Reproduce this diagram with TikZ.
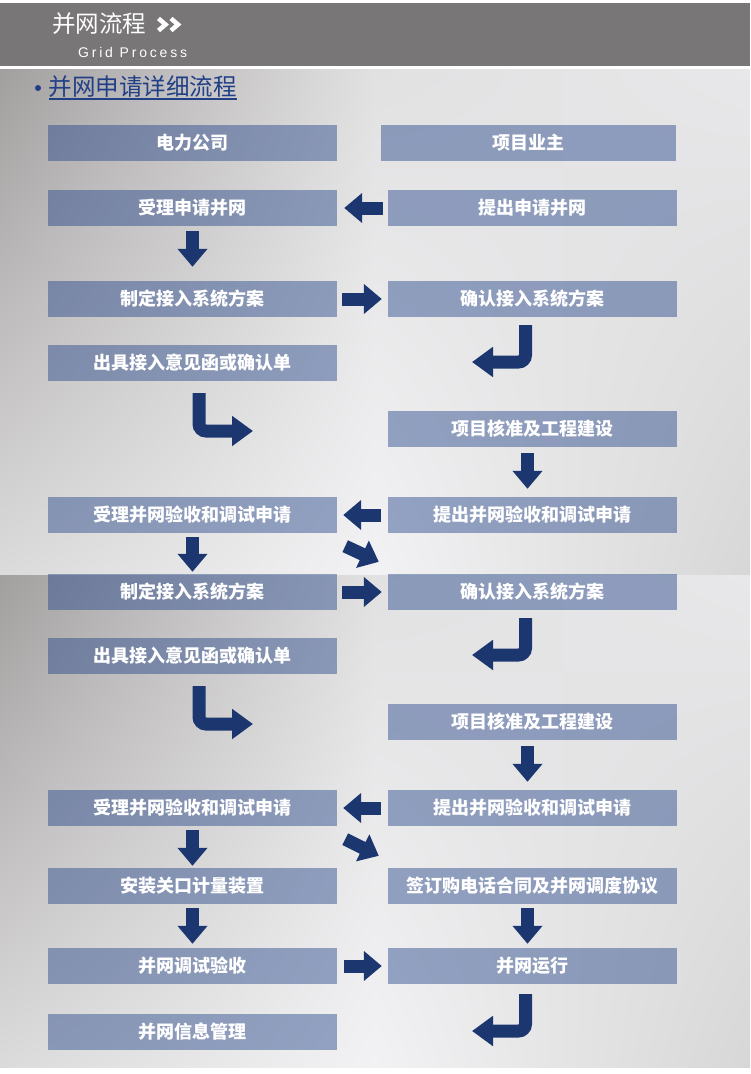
\documentclass[tikz,border=0pt]{standalone}
\usepackage{fontspec}
\newfontfamily\cjk{Noto Sans CJK SC}
\newfontfamily\gridfont[LetterSpace=20]{Liberation Sans}
\usetikzlibrary{arrows.meta, calc, positioning, shadings}
\definecolor{headgrey}{HTML}{787676}
\definecolor{boxblue}{HTML}{234389}
\definecolor{arrowblue}{HTML}{1C376F}
\definecolor{titleblue}{HTML}{213F86}
\definecolor{bgA}{HTML}{A29F9F}
\definecolor{bgB}{HTML}{E2E1E2}
\definecolor{bgC}{HTML}{E8E7E9}
\definecolor{bgD}{HTML}{DCDBDB}
\definecolor{bgE}{HTML}{F2F2F4}
\definecolor{bgF}{HTML}{D8D7D7}
\tikzset{
    box/.style={fill=boxblue, fill opacity=0.45, text opacity=1, text=white,
        minimum width=289pt, minimum height=36pt, inner sep=0pt,
        font=\cjk\bfseries\fontsize{18}{18}\selectfont},
    blk/.style={draw=arrowblue, line width=13pt, -{Triangle[length=18pt, width=29pt]}},
    hook/.style={draw=arrowblue, line width=13pt, rounded corners=7pt, -{Triangle[length=21pt, width=29pt]}}
}
\begin{document}
\begin{tikzpicture}[x=1pt, y=-1pt]
    \def \xa {192.5}
    \def \xb {532.5}
    \useasboundingbox (0,0) rectangle (750,1074);
    \fill[white] (0,0) rectangle (750,1074);
    \foreach \ya/\yb in {69/575, 575/1067}{
    \shade[upper left=bgA, upper right=bgB, lower left=bgD, lower right=bgE] (0,\ya) rectangle (375,\yb);
    \shade[upper left=bgB, upper right=bgC, lower left=bgE, lower right=bgF] (375,\ya) rectangle (750,\yb);}
    % header
    \fill[headgrey] (0,3) rectangle (750,66);
    \node[anchor=base west, inner sep=0pt, text=white, font=\cjk\fontsize{23.5}{23.5}\selectfont] (head) at (52,32) {并网流程};
    \foreach \s in {0,12.5}{
    \draw[white, line width=4.5pt] (158.5+\s,18.5) -- (165.5+\s,24.5) -- (158.5+\s,30.5);}
    \node[anchor=base west, inner sep=0pt, text=white, font=\gridfont\fontsize{14}{14}\selectfont] (sub) at (78,57) {Grid Process};
    \node[anchor=base west, inner sep=0pt, text=titleblue, font=\cjk\fontsize{23.5}{23.5}\selectfont] (title) at (48.5,95) {并网申请详细流程};
    \draw[titleblue, line width=1.5pt] ([yshift=-4pt]title.base west) -- ([yshift=-4pt]title.base east);
    \fill[titleblue] ([xshift=-10.5pt, yshift=7pt]title.base west) circle (3pt);
    % boxes
    \node[box] (a1) at (\xa,143) {电力公司};
    \node[box, minimum width=295pt] (b1) at (528.5,143) {项目业主};
    \node[box] (a2) at (\xa,208) {受理申请并网};
    \node[box] (b2) at (\xb,208) {提出申请并网};
    \node[box] (a3) at (\xa,299) {制定接入系统方案};
    \node[box] (b3) at (\xb,299) {确认接入系统方案};
    \node[box] (a4) at (\xa,363) {出具接入意见函或确认单};
    \node[box] (b5) at (\xb,429) {项目核准及工程建设};
    \node[box] (a6) at (\xa,515) {受理并网验收和调试申请};
    \node[box] (b6) at (\xb,515) {提出并网验收和调试申请};
    \node[box] (a7) at (\xa,592) {制定接入系统方案};
    \node[box] (b7) at (\xb,592) {确认接入系统方案};
    \node[box] (a8) at (\xa,656) {出具接入意见函或确认单};
    \node[box] (b9) at (\xb,722) {项目核准及工程建设};
    \node[box] (a10) at (\xa,808) {受理并网验收和调试申请};
    \node[box] (b10) at (\xb,808) {提出并网验收和调试申请};
    \node[box] (a11) at (\xa,886) {安装关口计量装置};
    \node[box] (b11) at (\xb,886) {签订购电话合同及并网调度协议};
    \node[box] (a12) at (\xa,966) {并网调试验收};
    \node[box] (b12) at (\xb,966) {并网运行};
    \node[box] (a13) at (\xa,1032) {并网信息管理};
    % arrows
    \foreach \f/\t/\s/\e in {b2/a2/5/7, a3/b3/5/6, b6/a6/7/6, a7/b7/5/6, b10/a10/7/6, a12/b12/7/6}{
    \draw[blk, shorten <=\s pt, shorten >=\e pt] (\f) -- (\t);}
    \foreach \f/\t/\s/\e in {a2/a3/5/14, a6/a7/4/2, a10/a11/4/2, a11/a12/4/4}{
    \draw[blk, shorten <=\s pt, shorten >=\e pt] (\f.south) -- (\t.north);}
    \foreach \f/\t/\s/\e in {b5/b6/6/8, b9/b10/6/8, b11/b12/4/4}{
    \draw[blk, shorten <=\s pt, shorten >=\e pt] ([xshift=-5pt]\f.south) -- ([xshift=-5pt]\t.north);}
    \draw[blk] ([shift={(8pt,-13pt)}]a6.south east) -- ([shift={(-9pt,12pt)}]b7.north west);
    \draw[blk] ([shift={(8pt,-13pt)}]a10.south east) -- ([shift={(-9pt,12pt)}]b11.north west);
    \coordinate (h1) at (472,362);
    \coordinate (h2) at (253,431);
    \coordinate (h3) at (472,655);
    \coordinate (h4) at (253,724);
    \coordinate (h5) at (472,1031);
    \draw[hook] ([shift={(-7pt,-8pt)}]b3.south) |- (h1);
    \draw[hook] ([shift={(6.5pt,-12pt)}]a4.south) |- (h2);
    \draw[hook] ([shift={(-7pt,-8pt)}]b7.south) |- (h3);
    \draw[hook] ([shift={(6.5pt,-12pt)}]a8.south) |- (h4);
    \draw[hook] ([shift={(-7pt,-10pt)}]b12.south) |- (h5);
\end{tikzpicture}
\end{document}
